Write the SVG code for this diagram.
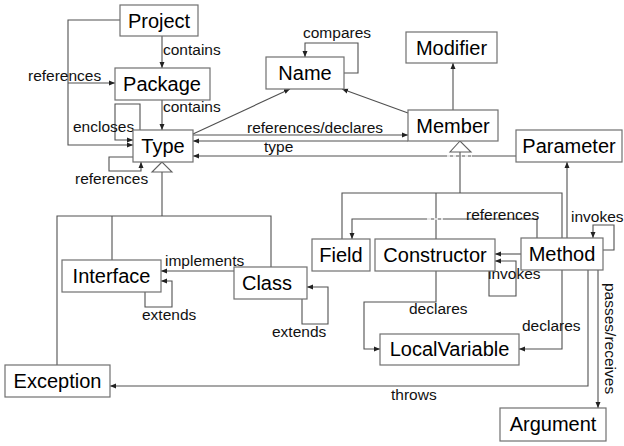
<svg xmlns="http://www.w3.org/2000/svg" width="624" height="446" viewBox="0 0 624 446">
<defs>
<marker id="arr" viewBox="0 0 6 6" refX="6" refY="3" markerWidth="6" markerHeight="6" markerUnits="userSpaceOnUse" orient="auto">
<path d="M0,0.5 L6,3 L0,5.5 z" fill="#222"/>
</marker>
</defs>
<style>
.box{fill:#fff;stroke:#707070;stroke-width:1.2}
.nl{font-family:"Liberation Sans",Arial,sans-serif;font-size:20px;fill:#000;text-anchor:middle}
.el{font-family:"Liberation Sans",Arial,sans-serif;font-size:15.5px;fill:#111}
.c{fill:none;stroke:#505050;stroke-width:1.1}
.a{marker-end:url(#arr)}
.tri{fill:#fff;stroke:#606060;stroke-width:1.1}
</style>
<rect width="624" height="446" fill="#fff"/>
<g id="connectors">
<path class="c a" d="M162,36 V68"/>
<path class="c a" d="M162,100 V130"/>
<path class="c a" d="M120,20 H68 V145 H133"/>
<path class="c a" d="M68,83 H115"/>
<path class="c a" d="M140,130 V104 H115 V140 H133"/>
<path class="c a" d="M133,157 H109 V171 H141 V162"/>
<path class="c a" d="M193,134 L290,89"/>
<path class="c a" d="M408,113 L342,89"/>
<path class="c a" d="M344,73 H358 V43 H305 V57"/>
<path class="c a" d="M453,110 V63"/>
<path class="c a" d="M193,135 H408"/>
<path class="c a" d="M408,141 H193"/>
<path class="c a" d="M516,156 H193"/>
<path d="M447,156 H472" stroke="#fff" stroke-width="1.6" stroke-dasharray="3,3"/>
<path class="c" d="M162,172 V216"/>
<path class="c" d="M57,365 V216 H271 V267"/>
<path class="c" d="M112,216 V260"/>
<polygon class="tri" points="162,162 152,172 172,172"/>
<path class="c" d="M460,152 V193"/>
<path class="c" d="M342,239 V193 H562 V238"/>
<path class="c" d="M436,193 V239"/>
<polygon class="tri" points="460,141 450,152 471,152"/>
<path class="c a" d="M567,238 V162"/>
<path class="c a" d="M537,238 V219 H352 V239"/>
<path d="M427,219 H443" stroke="#fff" stroke-width="1.6" stroke-dasharray="4,3"/>
<path class="c a" d="M603,250 H614 V225 H593 V238"/>
<path class="c a" d="M521,254 H495"/>
<path class="c a" d="M489,271 V296 H516 V261 H495"/>
<path class="c a" d="M436,271 V302 H364 V349 H380"/>
<path class="c a" d="M562,270 V349 H519"/>
<path class="c a" d="M588,270 V386 H110"/>
<path class="c a" d="M598,270 V408"/>
<path class="c a" d="M234,271 H161"/>
<path class="c a" d="M145,292 V307 H172 V281 H161"/>
<path class="c a" d="M302,299 V324 H328 V287 H307"/>
<text class="el" x="163" y="55">contains</text>
<text class="el" x="163" y="112">contains</text>
<text class="el" x="28" y="81">references</text>
<text class="el" x="73" y="132">encloses</text>
<text class="el" x="75" y="184">references</text>
<text class="el" x="303" y="38">compares</text>
<text class="el" x="247" y="133">references/declares</text>
<text class="el" x="264" y="152">type</text>
<text class="el" x="165" y="266">implements</text>
<text class="el" x="142" y="320">extends</text>
<text class="el" x="272" y="337">extends</text>
<text class="el" x="466" y="220">references</text>
<text class="el" x="571" y="222">invokes</text>
<text class="el" x="488" y="279">invokes</text>
<text class="el" x="409" y="314">declares</text>
<text class="el" x="522" y="331">declares</text>
<text class="el" x="391" y="400">throws</text>
<text class="el" transform="translate(605,283) rotate(90)">passes/receives</text>
</g>
<g id="Project"><rect class="box" x="120" y="5" width="78" height="31"/><text class="nl" x="159" y="28">Project</text></g>
<g id="Package"><rect class="box" x="115" y="68" width="95" height="32"/><text class="nl" x="162" y="91">Package</text></g>
<g id="Type"><rect class="box" x="133" y="130" width="60" height="32"/><text class="nl" x="163" y="153">Type</text></g>
<g id="Name"><rect class="box" x="266" y="57" width="78" height="32"/><text class="nl" x="305" y="80">Name</text></g>
<g id="Modifier"><rect class="box" x="406" y="32" width="91" height="31"/><text class="nl" x="451.5" y="55">Modifier</text></g>
<g id="Member"><rect class="box" x="408" y="110" width="90" height="31"/><text class="nl" x="453" y="133">Member</text></g>
<g id="Parameter"><rect class="box" x="516" y="130" width="106" height="32"/><text class="nl" x="569" y="153">Parameter</text></g>
<g id="Field"><rect class="box" x="312" y="239" width="58" height="32"/><text class="nl" x="341" y="262">Field</text></g>
<g id="Constructor"><rect class="box" x="375" y="239" width="120" height="32"/><text class="nl" x="435" y="262">Constructor</text></g>
<g id="Method"><rect class="box" x="521" y="238" width="82" height="32"/><text class="nl" x="562" y="261">Method</text></g>
<g id="Interface"><rect class="box" x="62" y="260" width="99" height="32"/><text class="nl" x="111.5" y="283">Interface</text></g>
<g id="Class"><rect class="box" x="234" y="267" width="73" height="32"/><text class="nl" x="267" y="290">Class</text></g>
<g id="LocalVariable"><rect class="box" x="380" y="334" width="139" height="31"/><text class="nl" x="449.5" y="356">LocalVariable</text></g>
<g id="Exception"><rect class="box" x="5" y="365" width="105" height="32"/><text class="nl" x="57.5" y="388">Exception</text></g>
<g id="Argument"><rect class="box" x="500" y="408" width="106" height="33"/><text class="nl" x="553" y="431">Argument</text></g>
</svg>
